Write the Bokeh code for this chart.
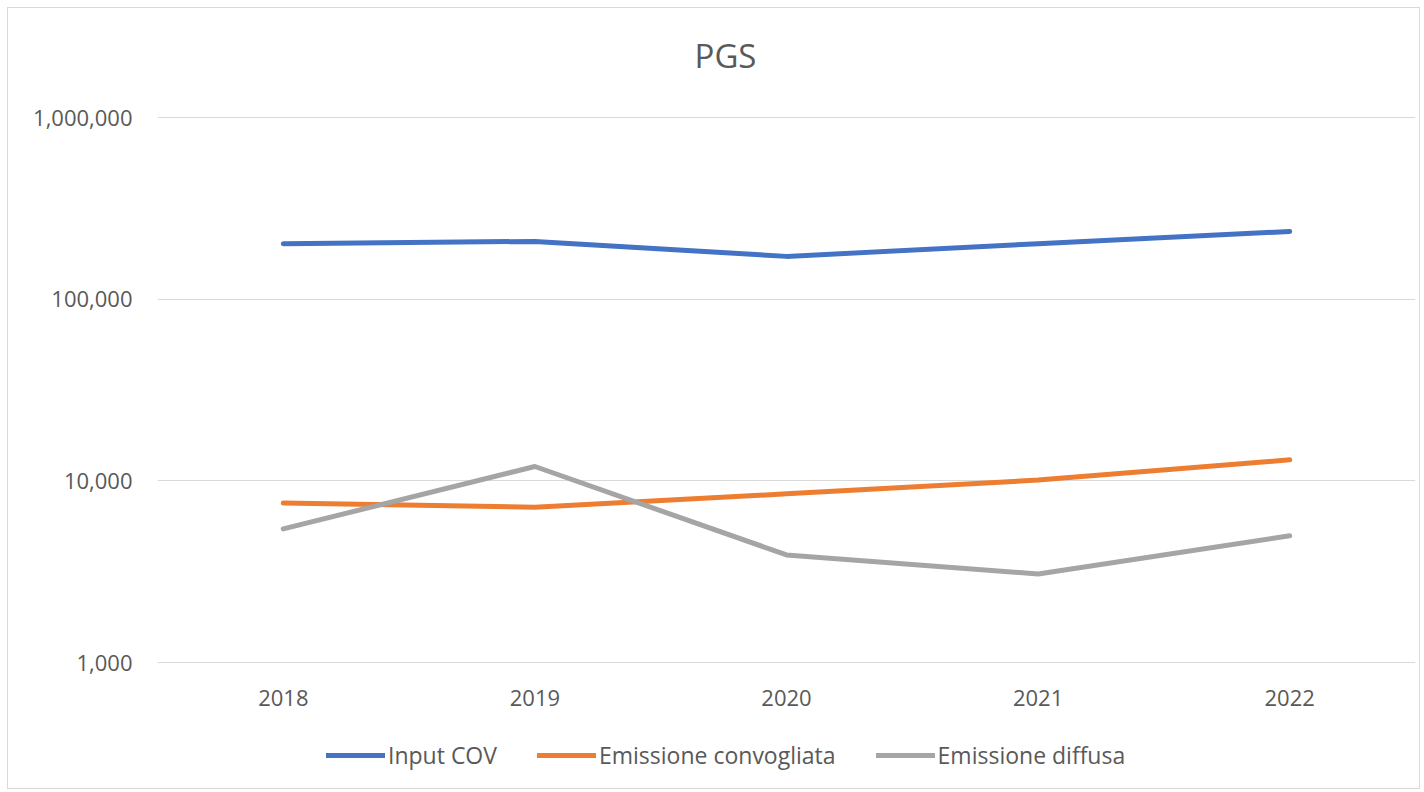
from bokeh.plotting import figure
from bokeh.models import (ColumnDataSource, Legend, LegendItem, NumeralTickFormatter,
                          FixedTicker, Range1d)
from bokeh.core.properties import value
from bokeh.embed import file_html
from bokeh.resources import INLINE

years = ["2018", "2019", "2020", "2021", "2022"]
input_cov = [202000, 208000, 172000, 202000, 236000]
emissione_convogliata = [7540, 7160, 8480, 10100, 13050]
emissione_diffusa = [5440, 11990, 3910, 3070, 4980]
y_ticks = [1000, 10000, 100000, 1000000]
title_text = "PGS"

FONT = "Open Sans"
TXT = "#595959"

# layout (screen px): frame spans the whole plot height; decades are 545/3 px apart
PPD = 545 / 3
Y_TOP = 1e6 * 10 ** (109 / PPD)      # 109 px of room above the 1,000,000 line
Y_BOT = 1e3 / 10 ** (126 / PPD)      # 126 px of room below the 1,000 line
YEAR_LABEL_Y = 1e3 / 10 ** (35 / PPD)
TITLE_Y = 1e6 * 10 ** (62 / PPD)

p = figure(frame_width=1258, frame_height=780, x_range=years, y_axis_type="log",
           y_range=Range1d(Y_BOT, Y_TOP), output_backend="svg",
           toolbar_location=None, min_border_left=149, min_border_right=4,
           min_border_top=0, min_border_bottom=0)
p.styles = {"border": "1px solid #d9d9d9", "margin-left": "7px", "margin-top": "7px"}
p.outline_line_color = None
p.background_fill_color = "white"
p.border_fill_color = "white"

p.yaxis.ticker = FixedTicker(ticks=y_ticks)
p.yaxis.formatter = NumeralTickFormatter(format="0,0")
p.yaxis.axis_line_color = None
p.yaxis.major_tick_line_color = None
p.yaxis.minor_tick_line_color = None
p.yaxis.major_label_text_font = FONT
p.yaxis.major_label_text_font_size = "22px"
p.yaxis.major_label_text_color = TXT
p.yaxis.major_label_standoff = 19

p.xaxis.visible = False
p.xgrid.grid_line_color = None
p.ygrid.grid_line_color = "#d9d9d9"
p.ygrid.grid_line_width = 1

# title
p.text(x=["2020"], y=[TITLE_Y], text=[title_text], x_offset=-61,
       text_font=value(FONT), text_font_size="33px", text_color=TXT,
       text_align="center", text_baseline="middle")

# category labels
p.text(x=years, y=[YEAR_LABEL_Y] * len(years), text=years,
       text_font=value(FONT), text_font_size="22px", text_color=TXT,
       text_align="center", text_baseline="middle")

series = [("Input COV", input_cov, "#4472C4"),
          ("Emissione convogliata", emissione_convogliata, "#ED7D31"),
          ("Emissione diffusa", emissione_diffusa, "#A5A5A5")]
items = []
for name, vals, col in series:
    src = ColumnDataSource(dict(x=years, y=vals))
    r = p.line("x", "y", source=src, line_color=col, line_width=5,
               line_cap="round", line_join="round")
    items.append(LegendItem(label=name, renderers=[r]))

legend = Legend(items=items, orientation="horizontal", location=(169, 17),
                border_line_color=None, background_fill_alpha=0,
                label_text_font=FONT, label_text_font_size="23px",
                label_text_color=TXT, glyph_width=59, label_standoff=3,
                spacing=40, margin=0, padding=0)
p.add_layout(legend, "center")

open("out.html", "w").write(file_html(p, INLINE))
